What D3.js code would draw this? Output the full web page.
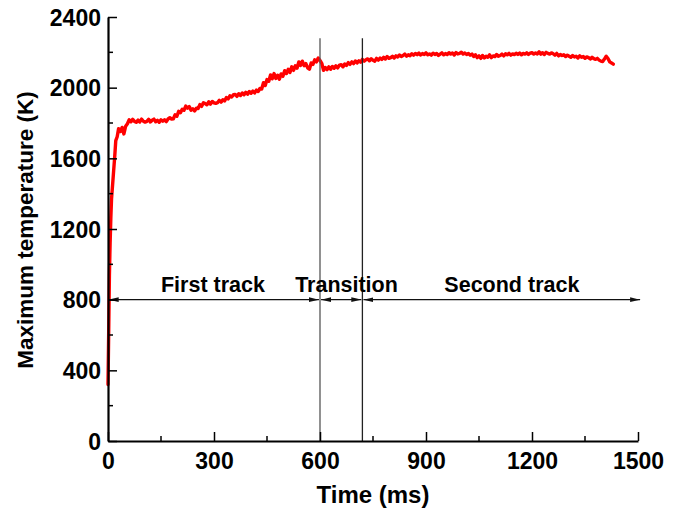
<!DOCTYPE html>
<html>
<head>
<meta charset="utf-8">
<script src="https://cdn.jsdelivr.net/npm/d3@7/dist/d3.min.js"></script>
<style>
  html, body { margin: 0; padding: 0; background: #fff; }
  svg { display: block; }
  text { font-family: "Liberation Sans", Arial, Helvetica, sans-serif; font-weight: bold; fill: #000; }
</style>
</head>
<body>
<svg id="chart" width="677" height="515"></svg>
<script>
// Time (ms) of each recorded sample
const timeMs = [
  0, 2, 4, 6, 8, 10, 13, 16, 19, 22, 26, 30, 35, 40, 45, 50, 55,
  60, 65, 70, 75, 80, 85, 90, 95, 100, 105,
  110, 115, 120, 125, 130, 135, 140, 145, 150, 155,
  160, 165, 170, 175, 180, 185, 190, 195, 200, 205,
  210, 215, 220, 225, 230, 235, 240, 245, 250, 255,
  260, 265, 270, 275, 280, 285, 290, 295, 300, 305,
  310, 315, 320, 325, 330, 335, 340, 345, 350, 355,
  360, 365, 370, 375, 380, 385, 390, 395, 400, 405,
  410, 415, 420, 425, 430, 435, 440, 445, 450, 455,
  460, 465, 470, 475, 480, 485, 490, 495, 500, 505,
  510, 515, 520, 525, 530, 535, 540, 545, 550, 555,
  560, 565, 570, 575, 580, 585, 590, 595, 600, 605,
  610, 615, 620, 625, 630, 635, 640, 645, 650, 655,
  660, 665, 670, 675, 680, 685, 690, 695, 700, 705,
  710, 715, 720, 725, 730, 735, 740, 745, 750, 755,
  760, 765, 770, 775, 780, 785, 790, 795, 800, 805,
  810, 815, 820, 825, 830, 835, 840, 845, 850, 855,
  860, 865, 870, 875, 880, 885, 890, 895, 900, 905,
  910, 915, 920, 925, 930, 935, 940, 945, 950, 955,
  960, 965, 970, 975, 980, 985, 990, 995, 1000, 1005,
  1010, 1015, 1020, 1025, 1030, 1035, 1040, 1045, 1050, 1055,
  1060, 1065, 1070, 1075, 1080, 1085, 1090, 1095, 1100, 1105,
  1110, 1115, 1120, 1125, 1130, 1135, 1140, 1145, 1150, 1155,
  1160, 1165, 1170, 1175, 1180, 1185, 1190, 1195, 1200, 1205,
  1210, 1215, 1220, 1225, 1230, 1235, 1240, 1245, 1250, 1255,
  1260, 1265, 1270, 1275, 1280, 1285, 1290, 1295, 1300, 1305,
  1310, 1315, 1320, 1325, 1330, 1335, 1340, 1345, 1350, 1355,
  1360, 1365, 1370, 1375, 1380, 1385, 1390, 1395, 1400, 1405,
  1410, 1415, 1420, 1425, 1430
];

// Maximum temperature (K) at each sample
const tempK = [
  320, 620, 940, 1120, 1260, 1370, 1450, 1530, 1610, 1700, 1722, 1768, 1752, 1775, 1738, 1782, 1796,
  1818, 1807, 1821, 1809, 1804, 1816, 1806, 1822, 1810, 1805,
  1809, 1821, 1806, 1816, 1822, 1807, 1815, 1804, 1818, 1810,
  1818, 1808, 1823, 1830, 1822, 1824, 1847, 1838, 1866, 1858,
  1878, 1872, 1896, 1884, 1893, 1872, 1880, 1868, 1884, 1882,
  1904, 1894, 1915, 1910, 1903, 1920, 1907, 1922, 1914, 1911,
  1915, 1928, 1918, 1932, 1925, 1944, 1936, 1954, 1947, 1960,
  1962, 1951, 1966, 1956, 1970, 1960, 1974, 1963, 1978, 1968,
  1981, 1970, 1986, 1978, 1996, 1992, 2028, 2012, 2046, 2036,
  2072, 2050, 2080, 2052, 2070, 2048, 2078, 2064, 2096, 2080,
  2104, 2086, 2118, 2098, 2124, 2110, 2146, 2126, 2150, 2124,
  2136, 2112, 2104, 2140, 2132, 2158, 2146, 2168, 2154, 2138,
  2098, 2114, 2102, 2118, 2104, 2120, 2110, 2124, 2112, 2128,
  2130, 2118, 2134, 2126, 2142, 2132, 2146, 2136, 2151, 2140,
  2152, 2144, 2160, 2150, 2158, 2163, 2152, 2164, 2155, 2150,
  2166, 2156, 2168, 2160, 2172, 2162, 2176, 2166, 2170, 2178,
  2168, 2180, 2174, 2185, 2176, 2182, 2190, 2178, 2186, 2181,
  2192, 2184, 2194, 2187, 2196, 2185, 2193, 2188, 2197, 2186,
  2191, 2184, 2195, 2188, 2194, 2182, 2190, 2197, 2186, 2193,
  2188, 2198, 2190, 2196, 2185, 2199, 2191, 2194, 2201, 2190,
  2196, 2188, 2194, 2184, 2190, 2176, 2186, 2170, 2180, 2166,
  2182, 2168, 2178, 2172, 2186, 2170, 2180, 2176, 2188, 2178,
  2182, 2190, 2180, 2192, 2186, 2194, 2184, 2191, 2187, 2195,
  2188, 2196, 2186, 2194, 2190, 2197, 2188, 2195, 2198, 2190,
  2196, 2191, 2203, 2190, 2198, 2188, 2200, 2194, 2190, 2197,
  2192, 2184, 2194, 2180, 2188, 2182, 2186, 2176, 2184, 2178,
  2172, 2182, 2174, 2178, 2168, 2180, 2172, 2176, 2166, 2174,
  2170, 2162, 2172, 2164, 2160, 2166, 2156, 2150, 2148, 2162,
  2178, 2165, 2146, 2140, 2133
];

const xTicks = [0, 300, 600, 900, 1200, 1500];
const xMinorTicks = [150, 450, 750, 1050, 1350];
const yTicks = [0, 400, 800, 1200, 1600, 2000, 2400];
const yMinorTicks = [200, 600, 1000, 1400, 1800, 2200];

// Stage boundaries (ms) and the labelled spans between them
const boundaries = [600, 720];
const boundaryColors = ["#555", "#222"];
const boundaryTop = 2280;
const spanLevel = 800;
const spans = [
  { label: "First track", from: 2, to: 597, labelAt: 297 },
  { label: "Transition", from: 603, to: 717, labelAt: 675 },
  { label: "Second track", from: 723, to: 1506, labelAt: 1143 }
];

const svg = d3.select("#chart");
const x = d3.scaleLinear().domain([0, 1500]).range([108, 638]);
const y = d3.scaleLinear().domain([0, 2400]).range([441, 17]);

// Arrowhead markers
const defs = svg.append("defs");
["start", "end"].forEach(kind => {
  defs.append("marker")
    .attr("id", "arrow-" + kind)
    .attr("viewBox", "0 0 10 6")
    .attr("refX", kind === "end" ? 10 : 0)
    .attr("refY", 3)
    .attr("markerWidth", 10)
    .attr("markerHeight", 6)
    .attr("markerUnits", "userSpaceOnUse")
    .attr("orient", "auto")
    .append("path")
    .attr("d", kind === "end" ? "M0,0.6 L10,3 L0,5.4 Z" : "M10,0.6 L0,3 L10,5.4 Z")
    .attr("fill", "#111");
});

// Temperature trace
const series = timeMs.map((t, i) => [t, tempK[i]]);
svg.append("path")
  .datum(series)
  .attr("fill", "none")
  .attr("stroke", "#ff0000")
  .attr("stroke-width", 3.4)
  .attr("stroke-linejoin", "round")
  .attr("stroke-linecap", "round")
  .attr("d", d3.line().x(d => x(d[0])).y(d => y(d[1])));

// Stage boundary lines
svg.selectAll("line.boundary")
  .data(boundaries)
  .join("line")
  .attr("class", "boundary")
  .attr("x1", d => x(d)).attr("x2", d => x(d))
  .attr("y1", y(0)).attr("y2", y(boundaryTop))
  .attr("stroke", (d, i) => boundaryColors[i])
  .attr("stroke-width", 1.3);

// Span arrows and labels
svg.selectAll("line.span")
  .data(spans)
  .join("line")
  .attr("class", "span")
  .attr("x1", d => x(d.from)).attr("x2", d => x(d.to))
  .attr("y1", y(spanLevel)).attr("y2", y(spanLevel))
  .attr("stroke", "#111")
  .attr("stroke-width", 1.2)
  .attr("marker-start", "url(#arrow-start)")
  .attr("marker-end", "url(#arrow-end)");

svg.selectAll("text.span")
  .data(spans)
  .join("text")
  .attr("class", "span")
  .attr("x", d => x(d.labelAt))
  .attr("y", y(spanLevel) - 8)
  .attr("text-anchor", "middle")
  .style("font-size", "21.5px")
  .text(d => d.label);

// Axes with inward ticks
const xAxis = svg.append("g").attr("transform", `translate(0,${y(0)})`)
  .call(d3.axisBottom(x).tickValues(xTicks).tickSizeInner(-9).tickSizeOuter(0).tickPadding(12).tickFormat(d3.format("d")));
const xMinor = svg.append("g").attr("transform", `translate(0,${y(0)})`);
xMinor.selectAll("line").data(xMinorTicks).join("line")
  .attr("x1", d => x(d)).attr("x2", d => x(d)).attr("y1", 0).attr("y2", -5)
  .attr("stroke", "#000").attr("stroke-width", 1.5);

const yAxis = svg.append("g").attr("transform", `translate(${x(0)},0)`)
  .call(d3.axisLeft(y).tickValues(yTicks).tickSizeInner(-9).tickSizeOuter(0).tickPadding(7).tickFormat(d3.format("d")));
const yMinor = svg.append("g").attr("transform", `translate(${x(0)},0)`);
yMinor.selectAll("line").data(yMinorTicks).join("line")
  .attr("x1", 0).attr("x2", 5).attr("y1", d => y(d)).attr("y2", d => y(d))
  .attr("stroke", "#000").attr("stroke-width", 1.5);

[xAxis, yAxis].forEach(g => {
  g.select(".domain").attr("stroke", "#000").attr("stroke-width", 2.2);
  g.selectAll(".tick line").attr("stroke", "#000").attr("stroke-width", 1.5);
  g.selectAll(".tick text").style("font-size", "23px").style("font-family", "Liberation Sans, Arial, sans-serif").style("font-weight", "bold");
});
yAxis.selectAll(".tick text").attr("dy", "0.36em");
xAxis.selectAll(".tick text").attr("dy", "0.71em");

// Axis titles
svg.append("text")
  .attr("x", 373).attr("y", 503)
  .attr("text-anchor", "middle")
  .style("font-size", "24px")
  .text("Time (ms)");

svg.append("text")
  .attr("transform", "translate(33,230) rotate(-90)")
  .attr("text-anchor", "middle")
  .style("font-size", "22.5px")
  .text("Maximum temperature (K)");
</script>
</body>
</html>
